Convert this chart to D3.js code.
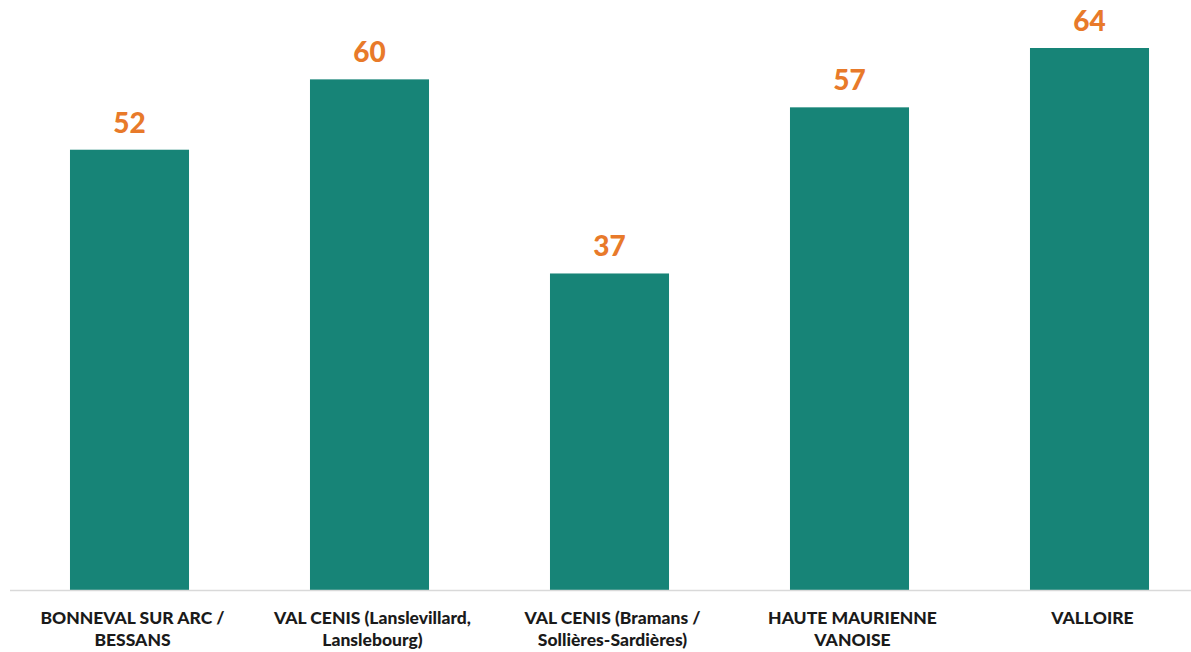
<!DOCTYPE html>
<html><head><meta charset="utf-8">
<script src="https://cdn.jsdelivr.net/npm/d3@7"></script>
<style>body{margin:0;background:#fff}</style>
</head><body><svg id="c" width="1191" height="652"></svg>
<script>
const categories = [
  ["BONNEVAL SUR ARC /", "BESSANS"],
  ["VAL CENIS (Lanslevillard,", "Lanslebourg)"],
  ["VAL CENIS (Bramans /", "Sollières-Sardières)"],
  ["HAUTE MAURIENNE", "VANOISE"],
  ["VALLOIRE"]
];
const values = [52, 60.3, 37.4, 57, 64];

const svg = d3.select("#c");
const baseY = 590.5;
const x = d3.scaleBand().domain(d3.range(categories.length)).range([9.5, 1209.5]).paddingInner(0.504).paddingOuter(0.252);
const y = d3.scaleLinear().domain([0, 64]).range([baseY, 48]);

svg.selectAll("rect.bar").data(values).join("rect")
  .attr("class", "bar")
  .attr("x", (d, i) => x(i))
  .attr("width", x.bandwidth())
  .attr("y", d => y(d))
  .attr("height", d => baseY - y(d))
  .attr("fill", "#178477");

svg.append("line").attr("x1", 10).attr("x2", 1191).attr("y1", baseY).attr("y2", baseY)
  .attr("stroke", "#d9d9d9").attr("stroke-width", 1.5);

svg.selectAll("text.val").data(values).join("text")
  .attr("class", "val")
  .attr("x", (d, i) => x(i) + x.bandwidth() / 2)
  .attr("y", d => y(d) - 17)
  .attr("text-anchor", "middle")
  .attr("font-family", "Lato, 'Open Sans', sans-serif")
  .attr("font-weight", 900)
  .attr("font-size", 28)
  .attr("fill", "#E87A2A")
  .text(d => d3.format(".0f")(d));

const lab = svg.selectAll("text.cat").data(categories).join("text")
  .attr("class", "cat")
  .attr("text-anchor", "middle")
  .attr("font-family", "Lato, 'Open Sans', sans-serif")
  .attr("font-weight", 900)
  .attr("font-size", 17.5)
  .attr("fill", "#1a1a1a");
lab.each(function(d, i) {
  const t = d3.select(this);
  d.forEach((line, j) => {
    t.append("tspan").attr("x", x(i) + x.bandwidth() / 2 + 3).attr("y", 624 + j * 22).text(line);
  });
});
</script></body></html>
